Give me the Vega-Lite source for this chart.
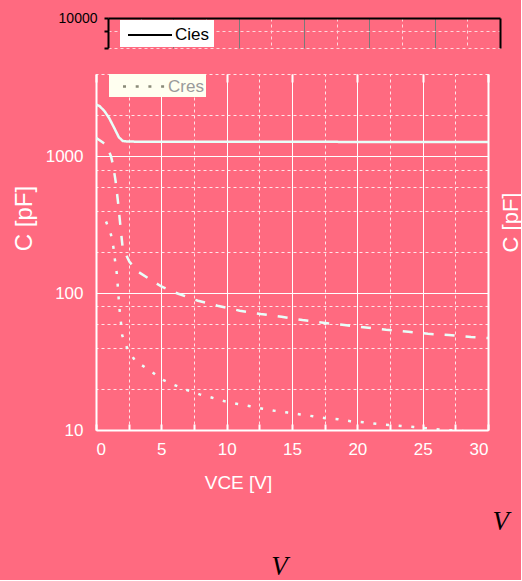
{
  "$schema": "https://vega.github.io/schema/vega-lite/v6.json",
  "background": "#FF6A80",
  "padding": {"left": 12, "top": 11, "right": 0, "bottom": 0},
  "config": {
    "view": {"stroke": null},
    "axis": {"labelFont": "Liberation Sans", "titleFont": "Liberation Sans", "titleFontWeight": "normal"},
    "legend": {"labelFont": "Liberation Sans"}
  },
  "title": {"text": "V", "orient": "bottom", "anchor": "middle", "font": "Liberation Serif", "fontStyle": "italic", "fontWeight": "normal", "fontSize": 27, "color": "black", "dx": 13, "offset": 19},
  "datasets": {
    "curves": [
      {"series": "Cies", "x": 0, "y": 2400},
      {"series": "Cies", "x": 0.3, "y": 2320},
      {"series": "Cies", "x": 0.65, "y": 2140},
      {"series": "Cies", "x": 1.0, "y": 1910},
      {"series": "Cies", "x": 1.4, "y": 1610},
      {"series": "Cies", "x": 1.75, "y": 1380},
      {"series": "Cies", "x": 2.05, "y": 1295},
      {"series": "Cies", "x": 2.5, "y": 1282},
      {"series": "Cies", "x": 5, "y": 1280},
      {"series": "Cies", "x": 10, "y": 1278},
      {"series": "Cies", "x": 15, "y": 1277},
      {"series": "Cies", "x": 20, "y": 1276},
      {"series": "Cies", "x": 25, "y": 1275},
      {"series": "Cies", "x": 30, "y": 1275},
      {"series": "Coes", "x": 0, "y": 1370},
      {"series": "Coes", "x": 0.5, "y": 1270},
      {"series": "Coes", "x": 0.8, "y": 1200},
      {"series": "Coes", "x": 1.15, "y": 1000},
      {"series": "Coes", "x": 1.3, "y": 870},
      {"series": "Coes", "x": 1.5, "y": 660},
      {"series": "Coes", "x": 1.7, "y": 450},
      {"series": "Coes", "x": 1.86, "y": 316},
      {"series": "Coes", "x": 2.04, "y": 215},
      {"series": "Coes", "x": 2.55, "y": 170},
      {"series": "Coes", "x": 3.2, "y": 144},
      {"series": "Coes", "x": 4.2, "y": 125},
      {"series": "Coes", "x": 5.0, "y": 112},
      {"series": "Coes", "x": 5.74, "y": 104},
      {"series": "Coes", "x": 6.3, "y": 99},
      {"series": "Coes", "x": 7.8, "y": 88},
      {"series": "Coes", "x": 9.3, "y": 81},
      {"series": "Coes", "x": 11.0, "y": 74.5},
      {"series": "Coes", "x": 12.6, "y": 70.4},
      {"series": "Coes", "x": 14.2, "y": 67.3},
      {"series": "Coes", "x": 15.8, "y": 63.6},
      {"series": "Coes", "x": 17.4, "y": 60.8},
      {"series": "Coes", "x": 19.0, "y": 58.5},
      {"series": "Coes", "x": 22.2, "y": 54},
      {"series": "Coes", "x": 23.9, "y": 52.2},
      {"series": "Coes", "x": 25.4, "y": 50.5},
      {"series": "Coes", "x": 27.0, "y": 49.4},
      {"series": "Coes", "x": 28.7, "y": 47.8},
      {"series": "Coes", "x": 30, "y": 47},
      {"series": "Cres", "x": 0.77, "y": 334},
      {"series": "Cres", "x": 1.15, "y": 267},
      {"series": "Cres", "x": 1.33, "y": 217},
      {"series": "Cres", "x": 1.45, "y": 175},
      {"series": "Cres", "x": 1.58, "y": 142},
      {"series": "Cres", "x": 1.66, "y": 115},
      {"series": "Cres", "x": 1.73, "y": 93},
      {"series": "Cres", "x": 1.81, "y": 75},
      {"series": "Cres", "x": 1.91, "y": 61},
      {"series": "Cres", "x": 2.01, "y": 49},
      {"series": "Cres", "x": 2.37, "y": 40},
      {"series": "Cres", "x": 3.0, "y": 32},
      {"series": "Cres", "x": 4.2, "y": 26.9},
      {"series": "Cres", "x": 5.03, "y": 23.5},
      {"series": "Cres", "x": 6.0, "y": 21.3},
      {"series": "Cres", "x": 6.96, "y": 19.6},
      {"series": "Cres", "x": 7.94, "y": 18.2},
      {"series": "Cres", "x": 8.9, "y": 17.2},
      {"series": "Cres", "x": 9.87, "y": 16.2},
      {"series": "Cres", "x": 10.84, "y": 15.5},
      {"series": "Cres", "x": 11.81, "y": 14.9},
      {"series": "Cres", "x": 12.76, "y": 14.3},
      {"series": "Cres", "x": 13.72, "y": 13.8},
      {"series": "Cres", "x": 14.67, "y": 13.4},
      {"series": "Cres", "x": 15.64, "y": 13.0},
      {"series": "Cres", "x": 16.61, "y": 12.6},
      {"series": "Cres", "x": 17.55, "y": 12.2},
      {"series": "Cres", "x": 18.54, "y": 12.0},
      {"series": "Cres", "x": 19.46, "y": 11.6},
      {"series": "Cres", "x": 20.46, "y": 11.4},
      {"series": "Cres", "x": 21.43, "y": 11.1},
      {"series": "Cres", "x": 22.4, "y": 10.9},
      {"series": "Cres", "x": 23.37, "y": 10.7},
      {"series": "Cres", "x": 24.34, "y": 10.5},
      {"series": "Cres", "x": 25.28, "y": 10.3},
      {"series": "Cres", "x": 26.25, "y": 10.1},
      {"series": "Cres", "x": 27.22, "y": 9.95},
      {"series": "Cres", "x": 28.2, "y": 9.8},
      {"series": "Cres", "x": 29.16, "y": 9.7}
    ]
  },
  "spacing": 24,
  "resolve": {"scale": {"x": "independent", "y": "independent", "color": "independent", "strokeDash": "independent"}},
  "vconcat": [
    {
      "width": 404,
      "height": 30,
      "data": {"name": "curves"},
      "layer": [
        {
          "transform": [{"filter": "datum.series == 'Cies'"}],
          "mark": {"type": "line", "clip": true, "strokeWidth": 2},
          "encoding": {
            "x": {"field": "x", "type": "quantitative", "scale": {"domain": [0, 30], "range": [12, 404], "nice": false, "zero": false},
              "axis": {"orient": "top", "values": [0, 5, 10, 15, 20, 25, 30], "labels": false, "ticks": false, "domain": true, "domainColor": "black", "domainWidth": 2, "grid": true, "gridColor": "#7a7a7a", "gridWidth": 1, "title": null}},
            "y": {"field": "y", "type": "quantitative", "scale": {"type": "log", "domain": [6000, 10000], "nice": false},
              "axis": {"orient": "left", "offset": -12, "values": [6000, 8000, 10000], "labelExpr": "datum.value == 10000 ? '10000' : ''", "labelFontSize": 14, "labelColor": "black", "ticks": true, "tickColor": "black", "tickSize": 4, "tickWidth": 2, "labelPadding": 7, "domainColor": "black", "domainWidth": 2, "grid": true, "gridColor": "#ffd6dc", "gridDash": [3, 3], "gridWidth": 1, "title": null}},
            "color": {"field": "series", "type": "nominal", "scale": {"domain": ["Cies"], "range": ["black"]},
              "legend": {"orient": "none", "legendX": 24, "legendY": 2, "title": null, "fillColor": "white", "padding": 4, "symbolType": "M-2.2,0H2.2", "symbolSize": 400, "symbolOffset": 15, "symbolStrokeWidth": 2, "symbolStrokeColor": "black", "labelFontSize": 17, "labelColor": "black", "labelOffset": 14}}
          }
        },
        {
          "mark": {"type": "line", "clip": true, "opacity": 0},
          "encoding": {
            "x": {"field": "x", "type": "quantitative", "scale": {"domain": [0, 30], "range": [12, 404], "nice": false, "zero": false},
              "axis": {"orient": "bottom", "values": [2.5, 7.5, 12.5, 17.5, 22.5, 27.5], "labels": false, "ticks": false, "domain": false, "grid": true, "gridColor": "#ffd6dc", "gridDash": [3, 3], "gridWidth": 1, "title": null}},
            "y": {"field": "y", "type": "quantitative", "scale": {"type": "log", "domain": [6000, 10000], "nice": false},
              "axis": {"orient": "right", "values": [10000], "labels": false, "ticks": false, "grid": false, "domain": true, "domainColor": "black", "domainWidth": 2, "title": null}}
          }
        }
      ],
      "resolve": {"axis": {"x": "independent", "y": "independent"}}
    },
    {
      "width": 392,
      "height": 356,
      "data": {"name": "curves"},
      "title": {"text": "V", "orient": "bottom", "anchor": "end", "font": "Liberation Serif", "fontStyle": "italic", "fontWeight": "normal", "fontSize": 27, "color": "black", "dx": -12, "offset": 17},
      "layer": [
        {
          "mark": {"type": "line", "clip": true, "strokeWidth": 2.5, "color": "#E8FFF9"},
          "encoding": {
            "x": {"field": "x", "type": "quantitative", "scale": {"domain": [0, 30], "nice": false, "zero": false},
              "axis": {"orient": "bottom", "values": [0, 5, 10, 15, 20, 25, 30], "labelFontSize": 17, "labelColor": "white", "labelPadding": 11, "ticks": false, "domain": true, "domainColor": "white", "domainWidth": 2, "grid": true, "gridColor": "white", "gridWidth": 1, "title": "VCE [V]", "titleFontSize": 19, "titleColor": "white", "titleX": 142, "titleY": 43}},
            "y": {"field": "y", "type": "quantitative", "scale": {"type": "log", "domain": [10, 4000], "nice": false},
              "axis": {"orient": "left", "values": [10, 100, 1000], "format": "d", "labelFontSize": 17, "labelColor": "white", "labelPadding": 13, "ticks": false, "domain": true, "domainColor": "white", "domainWidth": 2, "grid": true, "gridColor": "white", "gridWidth": 1, "title": "C [pF]", "titleFontSize": 24, "titleColor": "white", "titlePadding": 9, "titleY": 144}},
            "strokeDash": {"field": "series", "type": "nominal", "scale": {"domain": ["Cies", "Coes", "Cres"], "range": [[1, 0], [10, 11], [3, 9.7]]},
              "legend": {"values": ["Cres"], "orient": "none", "legendX": 13, "legendY": 0, "title": null, "fillColor": "#FFFFF0", "padding": 2, "symbolType": "M-2.5,0H2.5", "symbolSize": 324, "symbolOffset": 24, "symbolStrokeWidth": 2.5, "symbolStrokeColor": "#8a8a78", "labelFontSize": 17, "labelColor": "#9a9a9a", "labelOffset": 12}}
          }
        },
        {
          "mark": {"type": "line", "clip": true, "opacity": 0},
          "encoding": {
            "x": {"field": "x", "type": "quantitative", "scale": {"domain": [0, 30], "nice": false, "zero": false},
              "axis": {"orient": "bottom", "values": [0, 2.5, 5, 7.5, 10, 12.5, 15, 17.5, 20, 22.5, 25, 27.5, 30], "labels": false, "ticks": true, "tickSize": -6, "tickColor": "white", "tickWidth": 2, "domain": false, "grid": false, "title": null}},
            "y": {"field": "y", "type": "quantitative", "scale": {"type": "log", "domain": [10, 4000], "nice": false},
              "axis": {"orient": "right", "values": [20, 40, 60, 80, 200, 400, 600, 800, 2000, 4000], "labels": false, "ticks": false, "domain": true, "domainColor": "white", "domainWidth": 2, "grid": true, "gridColor": "#ffe4e8", "gridDash": [3, 3], "gridWidth": 1, "title": "C [pF]", "titleFontSize": 22, "titleColor": "white", "titlePadding": 12, "titleAngle": 270, "titleBaseline": "top", "titleY": 148}}
          }
        },
        {
          "mark": {"type": "line", "clip": true, "opacity": 0},
          "encoding": {
            "x": {"field": "x", "type": "quantitative", "scale": {"domain": [0, 30], "nice": false, "zero": false},
              "axis": {"orient": "top", "values": [2.5, 7.5, 12.5, 17.5, 22.5, 27.5], "labels": false, "ticks": false, "domain": false, "grid": true, "gridColor": "#ffe4e8", "gridDash": [3, 3], "gridWidth": 1, "title": null}},
            "y": {"field": "y", "type": "quantitative", "scale": {"type": "log", "domain": [10, 4000], "nice": false}, "axis": null}
          }
        },
        {
          "mark": {"type": "line", "clip": true, "opacity": 0},
          "encoding": {
            "x": {"field": "x", "type": "quantitative", "scale": {"domain": [0, 30], "nice": false, "zero": false},
              "axis": {"orient": "top", "values": [0, 5, 10, 15, 20, 25, 30], "labels": false, "ticks": true, "tickSize": -8, "tickColor": "white", "tickWidth": 2, "domain": false, "grid": false, "title": null}},
            "y": {"field": "y", "type": "quantitative", "scale": {"type": "log", "domain": [10, 4000], "nice": false}, "axis": null}
          }
        }
      ],
      "resolve": {"axis": {"x": "independent", "y": "independent"}}
    }
  ]
}
